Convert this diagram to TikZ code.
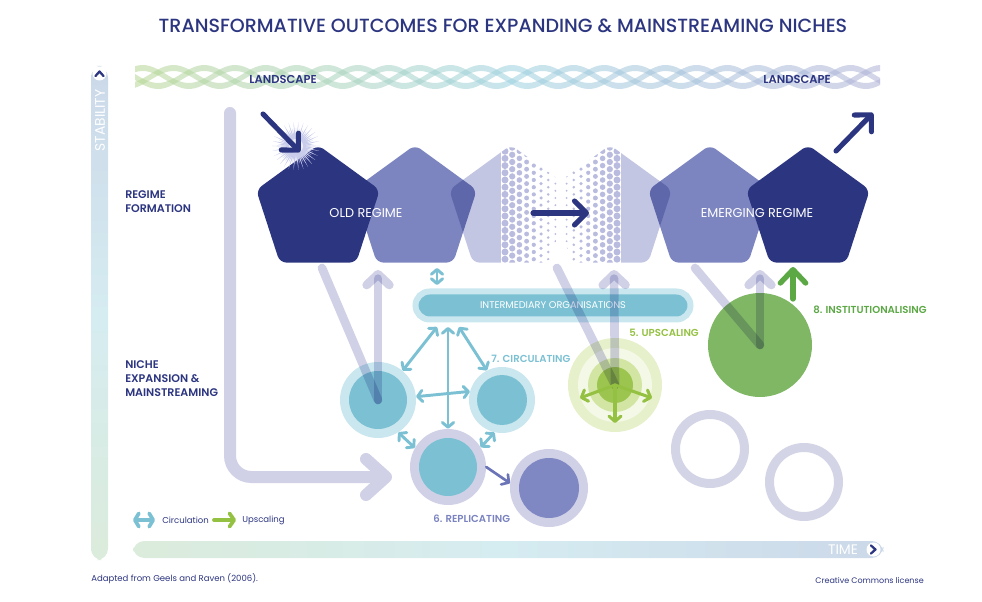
\documentclass[tikz,border=0pt]{standalone}
\usepackage{fontspec}
\setmainfont{Poppins}
\IfFontExistsTF{Poppins Medium}{\newfontfamily\medfont{Poppins Medium}}{\newfontfamily\medfont{Poppins}[FakeBold=1.2]}
\IfFontExistsTF{Poppins SemiBold}{\newfontfamily\semifont{Poppins SemiBold}}{\newfontfamily\semifont{Poppins}[FakeBold=2]}
\usetikzlibrary{arrows.meta}
\definecolor{navy}{HTML}{2C3580}
\definecolor{pmed}{HTML}{7C85C0}
\definecolor{plight}{HTML}{C3C6E3}
\definecolor{pdot}{HTML}{B9BCDE}
\definecolor{lav}{HTML}{D0D1E7}
\definecolor{ringc}{HTML}{D3D4E5}
\definecolor{teal}{HTML}{7CC1D3}
\definecolor{tealL}{HTML}{CAE7EF}
\definecolor{repl}{HTML}{7A83BF}
\definecolor{cfour}{HTML}{7F88C3}
\definecolor{arrblue}{HTML}{6C74B8}
\definecolor{gbig}{HTML}{80B765}
\definecolor{gdark}{HTML}{5BA845}
\definecolor{gup}{HTML}{95C143}
\definecolor{gA}{HTML}{E6F0CA}
\definecolor{gB}{HTML}{F4F8E6}
\definecolor{gC}{HTML}{D2E5A3}
\definecolor{gD}{HTML}{9CC54F}
\definecolor{sG}{HTML}{E2ECC6}
\definecolor{sB}{HTML}{D5ECF1}
\definecolor{sL}{HTML}{C2C4E0}
\definecolor{wG}{HTML}{B9D68A}
\definecolor{wB}{HTML}{9CD0DE}
\definecolor{wL}{HTML}{AEB1D6}
\definecolor{starc}{HTML}{C9CCEA}
\pgfdeclareverticalshading{stabshade}{100bp}{color(0bp)=(sG); color(50bp)=(sB); color(100bp)=(sL)}
\pgfdeclarehorizontalshading{timeshade}{100bp}{color(0bp)=(sG); color(50bp)=(sB); color(100bp)=(sL)}
\pgfdeclarehorizontalshading{waveshade}{100bp}{color(0bp)=(wG); color(22bp)=(wG); color(50bp)=(wB); color(75bp)=(wL); color(100bp)=(wL)}
\newcommand\pentagon[2]{({#1},{#2-65}) -- ({#1+61.8},{#2-20.1}) -- ({#1+38.2},{#2+52.6}) -- ({#1-38.2},{#2+52.6}) -- ({#1-61.8},{#2-20.1}) -- cycle}
\begin{document}
\begin{tikzpicture}[x=0.75pt,y=-0.75pt,
  every node/.style={inner sep=0pt},
  lbl/.style={text=navy, font=\fontsize{8.3}{10.5}\selectfont\semifont, align=left, anchor=west},
  stage/.style={font=\fontsize{7.6}{9}\selectfont\semifont, anchor=west},
  small/.style={text=navy, font=\fontsize{6.4}{8}\selectfont},
  pent/.style={rounded corners=5},
  lavline/.style={draw=lav, line width=6.5pt, line cap=round, blend mode=multiply},
  lavarrow/.style={lavline, -{Straight Barb[length=8pt,width=17pt,round]}},
  tealarr/.style={draw=teal, line width=2.2pt, line cap=round, >={Straight Barb[length=3.6pt,width=8.5pt,round]}, <->},
  garr/.style={draw=gup, line width=2.3pt, line cap=round, -{Straight Barb[length=4pt,width=9pt,round]}},
  navyarr/.style={draw=navy, line width=3.8pt, line cap=round, -{Straight Barb[length=9pt,width=18pt,round]}},
  disc/.style={circle, minimum size=#1},
  ring/.style={circle, draw=ringc, line width=6.75pt, minimum size=51.75pt}
]
\useasboundingbox (0,0) rectangle (982,602);

% title
\node[text=navy, font=\fontsize{14.3}{16}\selectfont\medfont] (title) at (503,26) {TRANSFORMATIVE OUTCOMES FOR EXPANDING \& MAINSTREAMING NICHES};

% stability bar
\shade[shading=stabshade, rounded corners=8.5] (91,66) rectangle (108,560);
\node[circle, fill=white, minimum size=10.5pt] (stabc) at (99.5,73.5) {};
\draw[navy, line width=1.7pt, line cap=round, line join=round] (95.5,76) -- (99.5,71.5) -- (103.5,76);
\node[text=white, rotate=90, font=\fontsize{10.4}{12}\selectfont] (stab) at (100,120.5) {STABILITY};

% time bar
\shade[shading=timeshade, rounded corners=8.5] (133,541) rectangle (883,558);
\node[text=white, font=\fontsize{10.4}{12}\selectfont] (time) at (843,550) {TIME};
\node[circle, fill=white, minimum size=10.5pt] (timec) at (873.5,549.5) {};
\draw[navy, line width=1.7pt, line cap=round, line join=round] (871,545.5) -- (875.5,549.5) -- (871,553.5);

% landscape waves
\foreach \ph in {0,120,240} {
  \shade[shading=waveshade, opacity=0.55] plot[domain=135:880, samples=200] (\x,{77+9*sin(3.9*(\x-135)+\ph)-3}) -- plot[domain=880:135, samples=200] (\x,{77+9*sin(3.9*(\x-135)+\ph)+3}) -- cycle;
}
\node[text=navy, font=\fontsize{8.6}{10}\selectfont\semifont] (land1) at (283,79) {LANDSCAPE};
\node[text=navy, font=\fontsize{8.6}{10}\selectfont\semifont] (land2) at (797,79) {LANDSCAPE};

% side labels
\node[lbl] (regf) at (125,202) {REGIME\\FORMATION};
\node[lbl] (niche) at (125,379) {NICHE\\EXPANSION \&\\MAINSTREAMING};

% L-shaped lavender bar
\coordinate (lstart) at (230,113);
\coordinate (lend) at (392,477);
\draw[lav, line width=9pt, line cap=round, rounded corners=16, -{Straight Barb[length=15pt,width=27pt,round]}] (lstart) |- (lend);

% intermediary bar
\node[draw=tealL, line width=4.5pt, fill=teal, rounded corners=10.5pt, minimum width=206.25pt, minimum height=21pt, text=white, font=\fontsize{7.3}{8}\selectfont] (inter) at (553,305.5) {INTERMEDIARY ORGANISATIONS};

% circles
\node[disc=57pt, fill=tealL] (c1o) at (378,400) {};
\node[disc=43.5pt, fill=teal] (c1) at (378,400) {};
\node[disc=49.5pt, fill=tealL] (c2o) at (502,400) {};
\node[disc=37.5pt, fill=teal] (c2) at (502,400) {};
\node[disc=57pt, fill=lav] (c3o) at (448,467) {};
\node[disc=43.5pt, fill=teal] (c3) at (448,467) {};
\node[disc=58.5pt, fill=lav] (c4o) at (549,488) {};
\node[disc=45pt, fill=cfour] (c4) at (549,488) {};
\node[disc=70.5pt, fill=gA] (c5a) at (615,385) {};
\node[disc=55.5pt, fill=gB] (c5b) at (615,385) {};
\node[disc=40.5pt, fill=gC] (c5c) at (615,385) {};
\node[disc=27pt, fill=gD] (c5) at (615,385) {};
\node[disc=78pt, fill=gbig] (c6) at (760,345) {};
\node[ring] (r1) at (710,449) {};
\node[ring] (r2) at (804,482) {};

% lavender links pentagon <-> niche
\coordinate (p1b) at (322,268);
\coordinate (p2b) at (378,270);
\coordinate (p3b) at (557,268);
\coordinate (p4b) at (614,270);
\coordinate (p5b) at (695,268);
\coordinate (p6b) at (760,270);
\draw[lavline] (p1b) -- (c1.center);
\draw[lavarrow] (c1.center) -- (p2b);
\draw[lavline] (p3b) -- (c5.center);
\draw[lavarrow] (c5.center) -- (p4b);
\draw[lavline] (p5b) -- (c6.center);
\draw[lavarrow] (c6.center) -- (p6b);

% pentagons
\begin{scope}[blend mode=multiply]
  % P3 light with halftone right side
  \begin{scope}
    \clip[pent] \pentagon{511}{210};
    \fill[plight] (440,140) rectangle (501,270);
    \foreach \i in {0,...,7} {
      \pgfmathsetmacro\xx{505+7.2*\i}
      \pgfmathsetmacro\rr{3.5*(1-\i/10)}
      \pgfmathsetmacro\off{mod(\i,2)*3.6}
      \foreach \j in {0,...,18} { \fill[pdot] (\xx,{144+\off+7.2*\j}) circle (\rr); }
    }
  \end{scope}
  % P4 light with halftone left side
  \begin{scope}
    \clip[pent] \pentagon{610}{210};
    \fill[plight] (621,140) rectangle (680,270);
    \foreach \i in {0,...,7} {
      \pgfmathsetmacro\xx{617-7.2*\i}
      \pgfmathsetmacro\rr{3.5*(1-\i/10)}
      \pgfmathsetmacro\off{mod(\i,2)*3.6}
      \foreach \j in {0,...,18} { \fill[pdot] (\xx,{144+\off+7.2*\j}) circle (\rr); }
    }
  \end{scope}
  \fill[pmed, pent] \pentagon{415}{210};
  \fill[pmed, pent] \pentagon{710}{210};
\end{scope}
\fill[navy, pent] \pentagon{318}{210};
\fill[navy, pent] \pentagon{808}{210};

\node[text=white, font=\fontsize{9.6}{11}\selectfont] (old) at (366,213) {OLD REGIME};
\node[text=white, font=\fontsize{9.6}{11}\selectfont] (emerg) at (757,213) {EMERGING REGIME};

% starburst
\foreach \a in {0,12,...,348} {
  \fill[starc] ([shift={(\a:24)}]296,146) -- ([shift={(\a+6:8)}]296,146) -- ([shift={(\a-6:8)}]296,146) -- cycle;
}
\foreach \a in {6,18,...,354} {
  \fill[starc] ([shift={(\a:18)}]296,146) -- ([shift={(\a+6:8)}]296,146) -- ([shift={(\a-6:8)}]296,146) -- cycle;
}
\fill[starc] (296,146) circle (9);
\fill[white, opacity=0.7] (296,146) circle (7);

% navy arrows
\coordinate (la1) at (263,114);
\coordinate (la2) at (300,152);
\draw[navyarr] (la1) -- (la2);
\coordinate (ra1) at (836,151);
\coordinate (ra2) at (873,113);
\draw[navyarr] (ra1) -- (ra2);
\coordinate (ma1) at (533,213);
\coordinate (ma2) at (589,213);
\draw[navyarr] (ma1) -- (ma2);

% circulation arrows
\coordinate (ib1) at (437,285);
\coordinate (ib0) at (437,268);
\draw[tealarr] (ib0) -- (ib1);
\coordinate (t1) at (437,327);
\coordinate (t2) at (448,327);
\coordinate (t3) at (459,327);
\draw[tealarr] (t1) -- (c1o.50);
\draw[tealarr] (t2) -- (c3o.north);
\draw[tealarr] (t3) -- (c2o.117);
\draw[tealarr] (c1o.5) -- (c2o.165);
\draw[tealarr] (c1o.-58) -- (c3o.150);
\draw[tealarr] (c2o.-103) -- (c3o.31);
\draw[draw=arrblue, line width=2pt, line cap=round, -{Straight Barb[length=4pt,width=9pt,round]}] (c3o.0) -- (c4o.173);

% upscaling arrows
\coordinate (u1) at (580,398);
\coordinate (u2) at (652,398);
\coordinate (u3) at (615,423);
\draw[garr] (c5.center) -- (u1);
\draw[garr] (c5.center) -- (u2);
\draw[garr] (c5.center) -- (u3);

% institutionalising arrow
\coordinate (ins1) at (793,299);
\coordinate (ins2) at (793,267);
\draw[draw=gdark, line width=4pt, line cap=round, -{Straight Barb[length=10pt,width=19pt,round]}] (ins1) -- (ins2);

% stage labels
\node[stage, text=teal] (circ) at (491,359) {7. CIRCULATING};
\node[stage, text=gup] (ups) at (629,333) {5. UPSCALING};
\node[stage, text=gdark] (inst) at (813,309.5) {8. INSTITUTIONALISING};
\node[stage, text=repl] (rep) at (433,519) {6. REPLICATING};

% legend
\coordinate (lg1) at (133,520);
\coordinate (lg2) at (155,520);
\draw[draw=teal, line width=2.8pt, line cap=round, >={Straight Barb[length=3pt,width=10pt,round]}, <->] (lg1) -- (lg2);
\node[small, anchor=west] (lcirc) at (162,520) {Circulation};
\coordinate (lg3) at (214,520);
\coordinate (lg4) at (236,520);
\draw[draw=gup, line width=2.8pt, line cap=round, -{Straight Barb[length=3.5pt,width=10pt,round]}] (lg3) -- (lg4);
\node[small, anchor=west] (lups) at (242,520) {Upscaling};

% footer
\node[small, anchor=west] (src) at (91,578.5) {Adapted from Geels and Raven (2006).};
\node[small, anchor=east, font=\fontsize{6.0}{8}\selectfont] (cc) at (924,580) {Creative Commons license};
\end{tikzpicture}
\end{document}
